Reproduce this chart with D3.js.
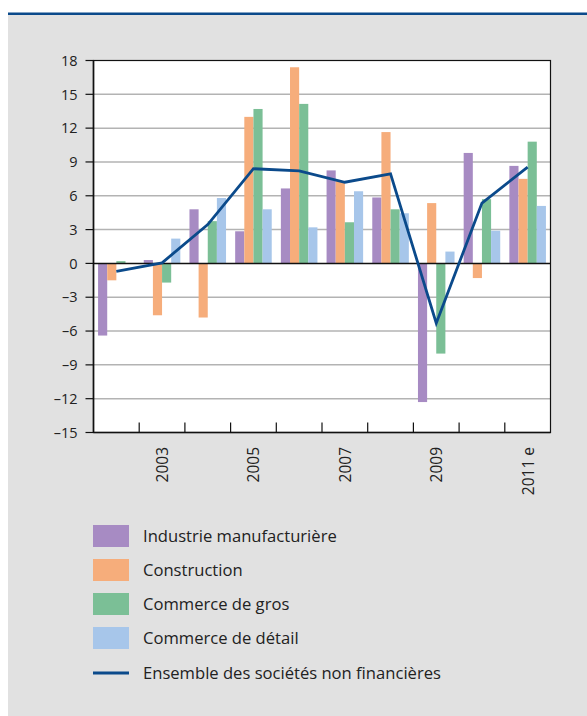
<!DOCTYPE html>
<html><head><meta charset="utf-8">
<script src="https://cdn.jsdelivr.net/npm/d3@7"></script>
<style>
html,body{margin:0;padding:0;background:#fff;}
svg{display:block;}
text{font-family:"Open Sans","Noto Sans",sans-serif;fill:#222;}
</style></head>
<body>
<svg id="c" width="587" height="716"></svg>
<script>
const years = ["2002","2003","2004","2005","2006","2007","2008","2009","2010","2011 e"];
const yearLabels = ["", "2003", "", "2005", "", "2007", "", "2009", "", "2011 e"];
const seriesNames = ["Industrie manufacturière","Construction","Commerce de gros","Commerce de détail"];
const industrie = [-6.4, 0.3, 4.8, 2.85, 6.65, 8.25, 5.85, -12.3, 9.8, 8.65];
const construction = [-1.5, -4.6, -4.8, 13.0, 17.4, 7.3, 11.65, 5.35, -1.3, 7.5];
const commerceGros = [0.2, -1.7, 3.75, 13.7, 14.15, 3.65, 4.8, -8.0, 5.7, 10.8];
const commerceDetail = [0, 2.2, 5.8, 4.8, 3.2, 6.4, 4.45, 1.05, 2.9, 5.1];
const ensemble = [-0.7, 0.05, 3.45, 8.4, 8.2, 7.2, 7.95, -5.3, 5.35, 8.55];
const lineName = "Ensemble des sociétés non financières";
const yTicks = [-15,-12,-9,-6,-3,0,3,6,9,12,15,18];

const colors = ["#a78bc3","#f6ad7b","#7bbf96","#a7c6ea"];
const lineColor = "#0b4a8b";
const seriesValues = [industrie, construction, commerceGros, commerceDetail];

const svg = d3.select("#c");
// background
svg.append("rect").attr("x",8).attr("y",14).attr("width",579).attr("height",702).attr("fill","#e1e1e1");
svg.append("line").attr("x1",8).attr("x2",587).attr("y1",13.8).attr("y2",13.8).attr("stroke",lineColor).attr("stroke-width",2.6);

const L = 93.5, R = 550.5, T = 60.5, B = 432.5;
const y = d3.scaleLinear().domain([-15,18]).range([B,T]);
const x0 = d3.scaleBand().domain(years).range([L,R]).padding(0);
const x1 = d3.scaleBand().domain(seriesNames).range([0,x0.bandwidth()]).paddingInner(0).paddingOuter(0.5);

svg.append("rect").attr("x",L).attr("y",T).attr("width",R-L).attr("height",B-T).attr("fill","#fff");

// gridlines
svg.append("g").selectAll("line").data(yTicks.filter(d=>d!==0 && d!==18 && d!==-15)).join("line")
  .attr("x1",L).attr("x2",R).attr("y1",d=>y(d)).attr("y2",d=>y(d))
  .attr("stroke","#b3b3b3").attr("stroke-width",1.5);

// bars
const gBars = svg.append("g");
seriesNames.forEach((s,si)=>{
  gBars.append("g").selectAll("rect").data(seriesValues[si]).join("rect")
    .attr("x",(d,i)=>x0(years[i])+x1(s))
    .attr("width",x1.bandwidth())
    .attr("y",d=>y(Math.max(0,d)))
    .attr("height",d=>Math.abs(y(d)-y(0)))
    .attr("fill",colors[si]);
});

// zero line
svg.append("line").attr("x1",L).attr("x2",R).attr("y1",y(0)).attr("y2",y(0)).attr("stroke","#111").attr("stroke-width",1.5);

// line series
const line = d3.line().x((d,i)=>x0(years[i])+x0.bandwidth()/2).y(d=>y(d));
svg.append("path").datum(ensemble).attr("d",line).attr("fill","none")
  .attr("stroke",lineColor).attr("stroke-width",2.8).attr("stroke-linejoin","miter");

// frame
svg.append("rect").attr("x",L).attr("y",T).attr("width",R-L).attr("height",B-T)
  .attr("fill","none").attr("stroke","#111").attr("stroke-width",1.2);
svg.append("line").attr("x1",L).attr("x2",L).attr("y1",T).attr("y2",B).attr("stroke","#111").attr("stroke-width",1.6);
svg.append("line").attr("x1",L).attr("x2",R).attr("y1",B).attr("y2",B).attr("stroke","#111").attr("stroke-width",1.6);

// y axis ticks
const gy = svg.append("g");
gy.selectAll("line").data(yTicks).join("line")
  .attr("x1",L-8).attr("x2",L).attr("y1",d=>y(d)).attr("y2",d=>y(d))
  .attr("stroke","#111").attr("stroke-width",1.2);
gy.selectAll("text").data(yTicks).join("text")
  .attr("x",L-16).attr("y",d=>y(d)).attr("dy","0.36em")
  .attr("text-anchor","end").attr("font-size",14.5)
  .text(d=> d<0 ? "\u2013"+Math.abs(d) : d);

// x ticks (inward, at category boundaries)
svg.append("g").selectAll("line").data(years.slice(1)).join("line")
  .attr("x1",d=>x0(d)).attr("x2",d=>x0(d)).attr("y1",B).attr("y2",B-10)
  .attr("stroke","#111").attr("stroke-width",1.2);
// x labels
svg.append("g").selectAll("text").data(years).join("text")
  .attr("transform",d=>`translate(${x0(d)+x0.bandwidth()/2+6},447) rotate(-90)`)
  .attr("text-anchor","end").attr("font-size",15.5)
  .text((d,i)=>yearLabels[i]);

// legend
const lg = svg.append("g");
const rowY = [536, 570, 604, 638];
seriesNames.forEach((s,i)=>{
  lg.append("rect").attr("x",93).attr("y",rowY[i]-11).attr("width",36).attr("height",22).attr("fill",colors[i]);
  lg.append("text").attr("x",143).attr("y",rowY[i]).attr("dy","0.35em").attr("font-size",16.6).text(s);
});
lg.append("line").attr("x1",93).attr("x2",129).attr("y1",673).attr("y2",673).attr("stroke",lineColor).attr("stroke-width",3);
lg.append("text").attr("x",143).attr("y",673).attr("dy","0.35em").attr("font-size",16.6).text(lineName);
</script>
</body></html>
